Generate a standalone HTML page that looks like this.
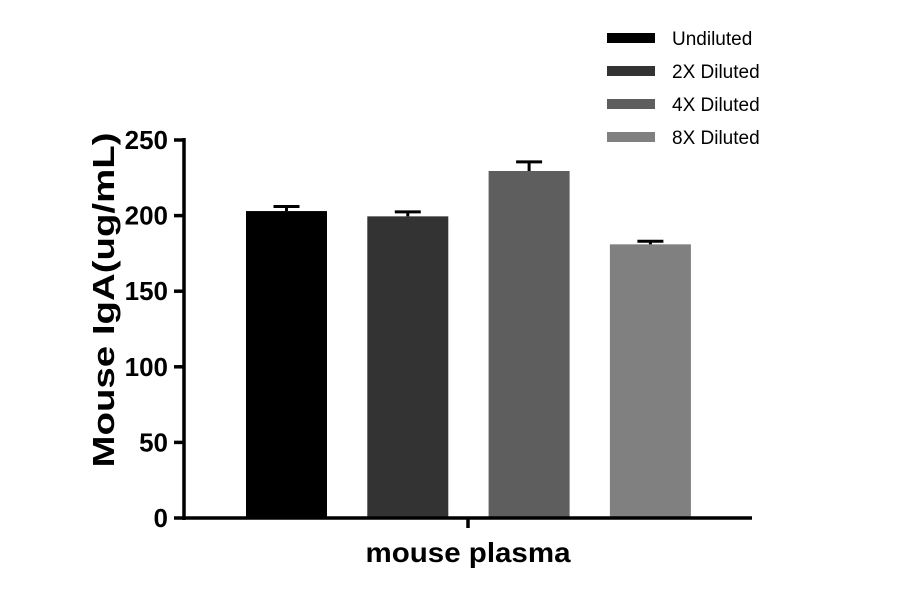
<!DOCTYPE html>
<html><head><meta charset="utf-8"><style>
body{margin:0;background:#fff;width:900px;height:594px;overflow:hidden;font-family:"Liberation Sans",sans-serif}
</style></head><body>
<svg id="chart" width="900" height="594" xmlns="http://www.w3.org/2000/svg"></svg>
<script>
const categories=["Undiluted","2X Diluted","4X Diluted","8X Diluted"];
const values=[203,199.5,229.5,181];
const errors=[3,3,6,2];
const colors=["#000000","#333333","#5e5e5e","#808080"];
const yTicks=[0,50,100,150,200,250];
const svg=document.getElementById('chart');
const NS="http://www.w3.org/2000/svg";
const y0=518,y1=140,yMax=250;
function yScale(v){return y0-(v/yMax)*(y0-y1);}
function xScale(i){return 246+i*121.3;}
const barW=81;
function mk(tag,attrs,parent){const e=document.createElementNS(NS,tag);for(const k in attrs)e.setAttribute(k,attrs[k]);(parent||svg).appendChild(e);return e;}
categories.forEach((c,i)=>{
  const x=xScale(i),v=values[i];
  const r=mk('rect',{x:x,y:yScale(v),width:barW,height:y0-yScale(v),fill:colors[i]});
  
  
  const cx=x+barW/2,top=yScale(v+errors[i]);
  const g=mk('g',{stroke:'#000','stroke-width':3});
  
  
  mk('line',{x1:cx,y1:yScale(v),x2:cx,y2:top},g);
  mk('line',{x1:cx-13,y1:top,x2:cx+13,y2:top},g);
  const ly=38+i*33;
  const lg=mk('g',{});
  
  
  mk('rect',{x:607,y:ly-5,width:48,height:10,fill:colors[i]},lg);
  const t=mk('text',{x:672,y:ly+7,'font-size':19,fill:'#000'},lg);t.textContent=c;
});
const ax=mk('g',{stroke:'#000','stroke-width':3.5});


mk('line',{x1:184,y1:138,x2:184,y2:520},ax);
mk('line',{x1:182,y1:518,x2:752,y2:518},ax);
mk('line',{x1:468,y1:518,x2:468,y2:528},ax);
yTicks.forEach(v=>{
  const y=yScale(v);
  mk('line',{x1:174,y1:y,x2:184,y2:y},ax);
  const t=mk('text',{x:168,y:y+9,'font-size':26,'font-weight':'bold','text-anchor':'end',fill:'#000'});
  
  
  t.textContent=v;
});
const yt=mk('text',{x:0,y:0,'font-size':31,'font-weight':'bold','text-anchor':'middle',fill:'#000',textLength:335,lengthAdjust:'spacingAndGlyphs',transform:'translate(114,300) rotate(-90)'});


yt.textContent='Mouse IgA(ug/mL)';
const xt=mk('text',{x:468,y:562,'font-size':28,'font-weight':'bold','text-anchor':'middle',fill:'#000',textLength:205,lengthAdjust:'spacingAndGlyphs'});


xt.textContent='mouse plasma';
</script>
</body></html>
